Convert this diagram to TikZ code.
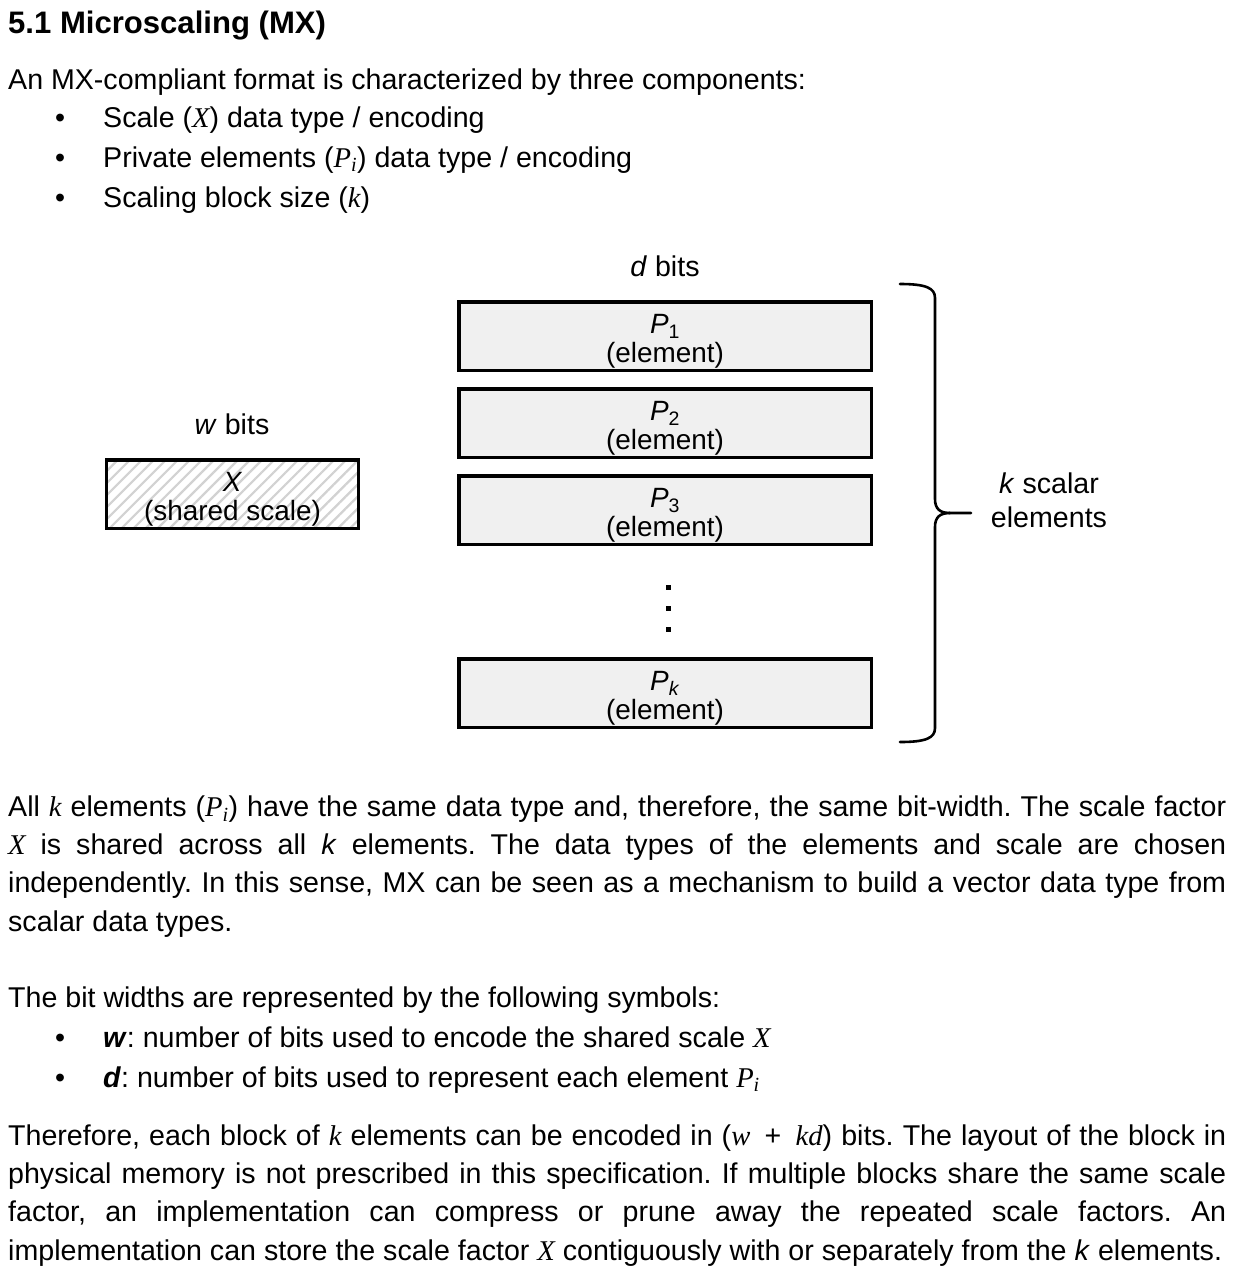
\documentclass[tikz,border=0pt]{standalone}
\usepackage{fontspec}
\setmainfont{Liberation Sans}
\newfontfamily\mxserif{Liberation Serif}
\usetikzlibrary{positioning,patterns.meta}

\newcommand\mxbody{\fontsize{28.7}{38.2}\selectfont\frenchspacing}
\newcommand\mxhead{\fontsize{31.2}{34}\selectfont\bfseries}
\newcommand\mxbox{\fontsize{28}{29}\selectfont}
\newcommand\jline[1]{\makebox[1218bp][s]{#1}}
% symbols set in a serif italic, as in the source
\newcommand\mv[1]{{\mxserif\itshape #1}}

\tikzset{
    txt/.style={anchor=base west, inner sep=0pt, font=\mxbody},
    lbl/.style={anchor=base, inner sep=0pt, font=\mxbody},
    para/.style={anchor=base west, inner sep=0pt, align=left, font=\mxbody},
    elem/.style={draw, line width=3.5bp, fill=gray!12, minimum width=412.5bp,
        minimum height=68.5bp, inner sep=0pt, align=center, font=\mxbox,
        text height=52bp, text depth=0bp},
    shared/.style={elem, fill=none, minimum width=251.5bp,
        pattern={Lines[angle=45,distance=8.5bp,line width=2.2bp]}, pattern color=gray!35},
    brace/.style={line width=2.6bp, line cap=round}
}

\begin{document}
\begin{tikzpicture}[x=1bp, y=-1bp]
    \fill[white] (0,0) rectangle (1242,1275);
    \useasboundingbox (0,0) rectangle (1242,1275);

    % heading and list of components
    \node[txt, font=\mxhead] (title) at (8,33) {5.1 Microscaling (MX)};
    \node[txt] (intro) at (8,89) {An MX-compliant format is characterized by three components:};
    \node[txt] (b1) at (55,127) {\textbullet};
    \node[txt] (c1) at (103,127) {Scale (\mv{X}) data type / encoding};
    \node[txt] (b2) at (55,167) {\textbullet};
    \node[txt] (c2) at (103,167) {Private elements (\mv{P}\textsubscript{\mv{i}}) data type / encoding};
    \node[txt] (b3) at (55,207) {\textbullet};
    \node[txt] (c3) at (103,207) {Scaling block size (\mv{k})};

    % element blocks
    \node[lbl] (dbits) at (665,276) {\textit{d} bits};
    \node[elem] (p1) at (665,336) {\textit{P}\textsubscript{1}\\(element)};
    \node[elem, below=15bp of p1] (p2) {\textit{P}\textsubscript{2}\\(element)};
    \node[elem, below=15bp of p2] (p3) {\textit{P}\textsubscript{3}\\(element)};
    \node[elem, below=111bp of p3] (pk) {\textit{P}\textsubscript{\textit{k}}\\(element)};
    \foreach \y in {585,606,627}
        \fill (666,\y) rectangle +(5,5);

    % shared scale
    \node[lbl] (wbits) at (232,434) {\textit{w} bits};
    \node[shared] (x) at (232.5,494) {\textit{X}\\(shared scale)};

    % brace
    \draw[brace] (900,284) .. controls (926,284) and (935,288) .. (935,298) -- (935,499)
        .. controls (935,509) and (940,513) .. (950,513) -- (971,513);
    \draw[brace] (950,513) .. controls (940,513) and (935,517) .. (935,527) -- (935,728)
        .. controls (935,738) and (926,742) .. (900,742);
    \node[lbl, align=center, font=\fontsize{28.7}{34}\selectfont] (kscal) at (1049,527) {\textit{k} scalar\\elements};

    % text below the picture (base = last line)
    \node[para] (par1) at (8,931) {%
        \jline{All \mv{k} elements (\mv{P}\textsubscript{\mv{i}}) have the same data type and, therefore, the same bit-width. The scale factor}\\
        \jline{\mv{X} is shared across all \textit{k} elements. The data types of the elements and scale are chosen}\\
        \jline{independently. In this sense, MX can be seen as a mechanism to build a vector data type from}\\
        scalar data types.};
    \node[txt] (par2) at (8,1007) {The bit widths are represented by the following symbols:};
    \node[txt] (b4) at (55,1047) {\textbullet};
    \node[txt] (s1) at (103,1047) {\textbf{\textit{w}}: number of bits used to encode the shared scale \mv{X}};
    \node[txt] (b5) at (55,1087) {\textbullet};
    \node[txt] (s2) at (103,1087) {\textbf{\textit{d}}: number of bits used to represent each element \mv{P}\textsubscript{\mv{i}}};
    \node[para] (par3) at (8,1260) {%
        \jline{Therefore, each block of \mv{k} elements can be encoded in (\mv{w}\enspace+\enspace\mv{kd}) bits. The layout of the block in}\\
        \jline{physical memory is not prescribed in this specification. If multiple blocks share the same scale}\\
        \jline{factor, an implementation can compress or prune away the repeated scale factors. An}\\
        implementation can store the scale factor \mv{X} contiguously with or separately from the \textit{k} elements.};
\end{tikzpicture}
\end{document}
